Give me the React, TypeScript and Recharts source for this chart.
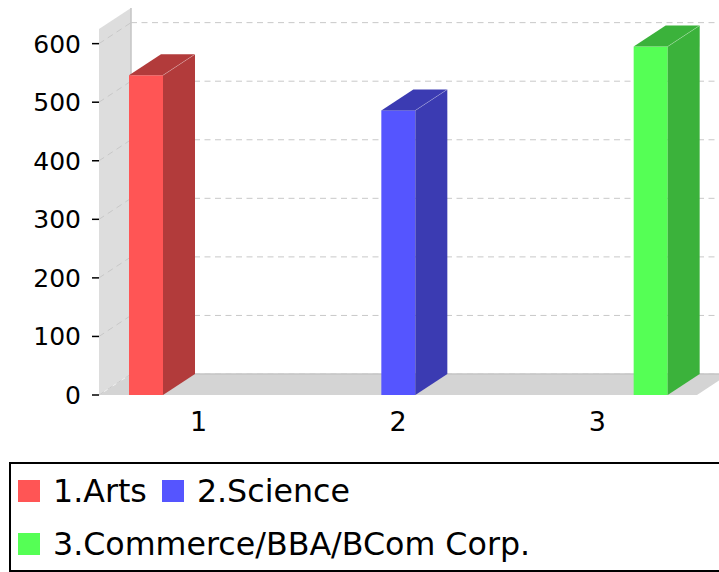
import { BarChart, Bar, XAxis, YAxis, CartesianGrid, Legend } from "recharts";

const categories = ["1", "2", "3"];
const seriesNames = ["1.Arts", "2.Science", "3.Commerce/BBA/BCom Corp."];
const artsValues = [546, null, null];
const scienceValues = [null, 486, null];
const commerceValues = [null, null, 595];
const yTicks = [0, 100, 200, 300, 400, 500, 600];

const data = categories.map((cat, i) => ({
  cat,
  arts: artsValues[i],
  science: scienceValues[i],
  commerce: commerceValues[i],
}));

// 3d depth offset
const DX = 32;
const DY = -21;
const FONT = "'DejaVu Sans', sans-serif";

const makeBox = (side: string) => (props: any) => {
  const { x, y, width, height, fill } = props;
  if (!height || height <= 0) return <g />;
  const r = x + width;
  const b = y + height;
  return (
    <g>
      <rect x={x} y={y} width={width} height={height} fill={fill} />
      <polygon
        points={`${r},${y} ${r + DX},${y + DY} ${r + DX},${b + DY} ${r},${b}`}
        fill={side}
      />
      <polygon
        points={`${x},${y} ${x + DX},${y + DY} ${r + DX},${y + DY} ${r},${y}`}
        fill={side}
      />
      <line x1={r} y1={y} x2={r + DX} y2={y + DY} stroke="#ffffff" strokeOpacity={0.25} />
    </g>
  );
};

// grid lines sit on the back plane; the first one also paints wall + floor
const gridLine = (props: any) => {
  const { x1, y1, x2, index, y, height } = props;
  const bottom = y + height;
  const top = y;
  const onEdge = Math.abs(y1 - top) < 1;
  return (
    <g key={`g-${index}`}>
      {index === 0 && (
        <g>
          <polygon
            points={`${x1},${bottom} ${x1},${top} ${x1 + DX},${top + DY} ${x1 + DX},${bottom + DY}`}
            fill="#dddddd"
          />
          <polygon
            points={`${x1},${bottom} ${x2},${bottom} ${x2 + DX},${bottom + DY} ${x1 + DX},${bottom + DY}`}
            fill="#d4d4d4"
          />
          <line x1={x1 + DX} y1={top + DY} x2={x1 + DX} y2={bottom + DY} stroke="#c4c4c4" strokeWidth={1.5} />
          <line x1={x1 + DX} y1={bottom + DY} x2={x2 + DX} y2={bottom + DY} stroke="#c4c4c4" strokeWidth={1.5} />
          <line x1={x1} y1={bottom} x2={x1 + DX} y2={bottom + DY} stroke="#eeeeee" />
        </g>
      )}
      {!onEdge && (
        <g>
          <line x1={x1} y1={y1} x2={x1 + DX} y2={y1 + DY} stroke="#c8c8c8" strokeDasharray="6 4.5" />
          <line x1={x1 + DX} y1={y1 + DY} x2={x2 + DX} y2={y1 + DY} stroke="#c8c8c8" strokeDasharray="6 4.5" />
        </g>
      )}
    </g>
  );
};

const renderLegend = ({ payload }: any) => (
  <div
    style={{
      boxSizing: "border-box",
      border: "2px solid #000",
      height: 110,
      paddingLeft: 7,
      display: "flex",
      flexWrap: "wrap",
      alignContent: "flex-start",
      fontFamily: FONT,
      fontSize: 31.7,
      color: "#000",
    }}
  >
    {(payload || []).map((p: any) => (
      <div key={p.value} style={{ display: "flex", alignItems: "center", height: 53, marginRight: 15 }}>
        <span style={{ width: 22, height: 22, background: p.color, marginRight: 13 }} />
        <span style={{ whiteSpace: "nowrap" }}>{p.value}</span>
      </div>
    ))}
  </div>
);

export default function App() {
  return (
    <div style={{ width: 719, height: 572, overflow: "hidden", position: "relative" }}>
      <style>{"body{margin:0}"}</style>
      <BarChart
        width={719}
        height={572}
        data={data}
        margin={{ top: 29, right: 22, left: 0, bottom: 27 }}
        barSize={34}
        barGap={19}
        style={{ fontFamily: FONT }}
      >
        <CartesianGrid vertical={false} horizontal={gridLine} />
        <XAxis
          dataKey="cat"
          height={40}
          axisLine={false}
          tickLine={false}
          tickSize={0}
          tickMargin={17}
          tick={{ fontSize: 27, fill: "#000" }}
        />
        <YAxis
          width={99}
          domain={[0, 625]}
          ticks={yTicks}
          interval={0}
          axisLine={false}
          tickSize={7}
          tickMargin={11}
          tickLine={{ stroke: "#000", strokeWidth: 1.5 }}
          tick={{ fontSize: 25, fill: "#000" }}
        />
        <Legend
          content={renderLegend}
          wrapperStyle={{ left: 9, top: 462, bottom: "auto", width: 730 }}
        />
        <Bar dataKey="arts" name={seriesNames[0]} fill="#ff5555" shape={makeBox("#b23b3b")} isAnimationActive={false} />
        <Bar dataKey="science" name={seriesNames[1]} fill="#5555ff" shape={makeBox("#3b3bb2")} isAnimationActive={false} />
        <Bar dataKey="commerce" name={seriesNames[2]} fill="#55ff55" shape={makeBox("#3bb23b")} isAnimationActive={false} />
      </BarChart>
    </div>
  );
}
